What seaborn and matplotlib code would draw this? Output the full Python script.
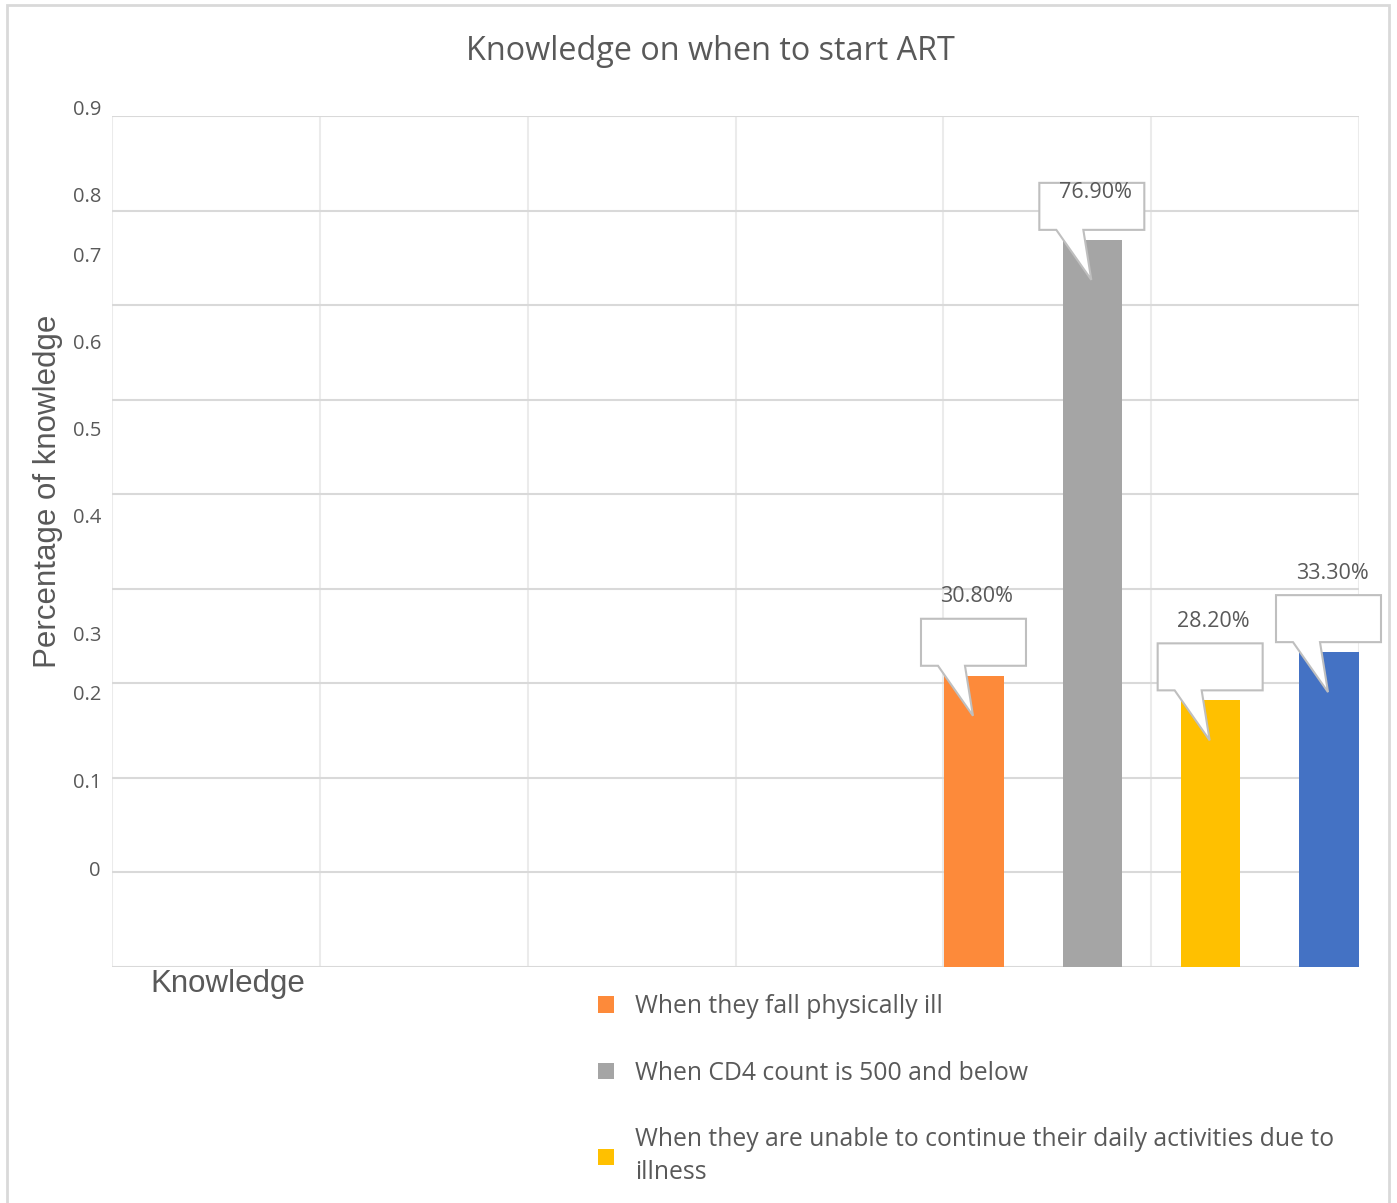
import textwrap
import pandas as pd
import numpy as np
import seaborn as sns
import matplotlib
matplotlib.use("Agg")
import matplotlib.pyplot as plt
import matplotlib.patches as mpatches
import matplotlib.transforms as mtransforms

# dane z wykresu
group = ["Knowledge"]
series = [
    "When they fall physically ill",
    "When CD4 count is 500 and below",
    "When they are unable to continue their daily activities due to illness",
    "Other",
]
values = [0.308, 0.769, 0.282, 0.333]
value_labels = ["30.80%", "76.90%", "28.20%", "33.30%"]
colors = ["#FD8A3A", "#A5A5A5", "#FFC000", "#4472C4"]

# etykiety osi Y (w oryginale przesuniete wzgledem linii siatki)
ytick_text = ["0.9", "0.8", "0.7", "0.6", "0.5", "0.4", "0.3", "0.2", "0.1", "0"]
ytick_pos = [0.906, 0.814, 0.751, 0.659, 0.567, 0.475, 0.350, 0.288, 0.195, 0.102]

df = pd.DataFrame({"group": group * len(series), "series": series, "value": values})

sns.set_theme(style="white")
plt.rcParams["font.family"] = ["Open Sans", "DejaVu Sans"]
text_col = "#595959"

fig = plt.figure(figsize=(13.97, 12.03), dpi=100)
ax = fig.add_axes([112 / 1397, 1 - 967 / 1203, 1247 / 1397, 851 / 1203])

sns.barplot(data=df, x="group", y="value", hue="series", hue_order=series,
            palette=colors, saturation=1, width=0.8, gap=0.5, errorbar=None,
            linewidth=0, legend=True, ax=ax)

handles, labels = ax.get_legend_handles_labels()
ax.get_legend().remove()

# osie i siatka
xlim = (-1.7568, 0.3507)
ax.set_xlim(*xlim)
ax.set_ylim(0, 0.9)
ax.set_xticks(np.linspace(xlim[0], xlim[1], 7))
ax.set_xticklabels([])
ax.set_yticks(np.arange(0, 0.91, 0.1))
ax.set_yticklabels([])
ax.tick_params(length=0)
ax.set_xlabel("")
ax.set_ylabel("")
for s in ax.spines.values():
    s.set_visible(False)
ax.set_axisbelow(True)
ax.yaxis.grid(True, color="#D9D9D9", linewidth=1.5)
ax.xaxis.grid(True, color="#EBEBEB", linewidth=1.5)

ylab_trans = mtransforms.blended_transform_factory(ax.transAxes, ax.transData)
for t, p in zip(ytick_text, ytick_pos):
    ax.text(-11 / 1247, p, t, transform=ylab_trans, ha="right", va="center",
            fontsize=14.5, color=text_col, clip_on=False)

# dymki z etykietami wartosci
bars = [p for p in ax.patches if isinstance(p, mpatches.Rectangle)][:len(values)]
callout = np.array([(-53, 10), (-36, 10), (-1, -40), (-9, 10),
                    (52, 10), (52, 57), (-53, 57)])
for i, (bar, lab) in enumerate(zip(bars, value_labels)):
    cx = bar.get_x() + bar.get_width() / 2
    h = bar.get_height()
    px, py = ax.transData.transform((cx, h))
    poly = mpatches.Polygon(callout, closed=True, facecolor="white",
                            edgecolor="#BFBFBF", linewidth=1.5,
                            transform=mtransforms.Affine2D().translate(px, py),
                            clip_on=False, zorder=5)
    ax.add_patch(poly)
    dy = 47 if i == 1 else 79
    ax.annotate(lab, xy=(cx, h), xytext=(3 * 0.72, dy * 0.72),
                textcoords="offset points", ha="center", va="center",
                fontsize=15.5, color=text_col, zorder=6, annotation_clip=False)

# teksty
fig.text(710 / 1397, 1 - 52 / 1203, "Knowledge on when to start ART",
         ha="center", va="center", fontsize=23.3, color=text_col)
fig.text(48 / 1397, 1 - 491 / 1203, "Percentage of knowledge", rotation=90,
         ha="center", va="center", fontsize=22.5, color=text_col,
         family=["Liberation Sans", "DejaVu Sans"])
fig.text(228 / 1397, 1 - 984 / 1203, group[0], ha="center", va="center",
         fontsize=22.5, color=text_col, family=["Liberation Sans", "DejaVu Sans"])

# legenda (czwarta pozycja ucieta w oryginale)
leg_labels = [textwrap.fill(l, 62) for l in labels[:3]]
leg = fig.legend(handles[:3], leg_labels, loc="upper left",
                 bbox_to_anchor=(598 / 1397, 1 - 994 / 1203), frameon=False,
                 fontsize=17.8, labelspacing=1.68, handlelength=0.65,
                 handleheight=0.65, handletextpad=0.85, borderpad=0,
                 borderaxespad=0)
for t in leg.get_texts():
    t.set_color(text_col)
    t.set_linespacing(1.43)

# ramka wykresu
fig.add_artist(mpatches.Rectangle((7 / 1397, -0.02), 1382 / 1397, 1.02 - 5 / 1203,
                                  transform=fig.transFigure, fill=False,
                                  edgecolor="#D9D9D9", linewidth=2))

fig.savefig("out.png", dpi=100)
